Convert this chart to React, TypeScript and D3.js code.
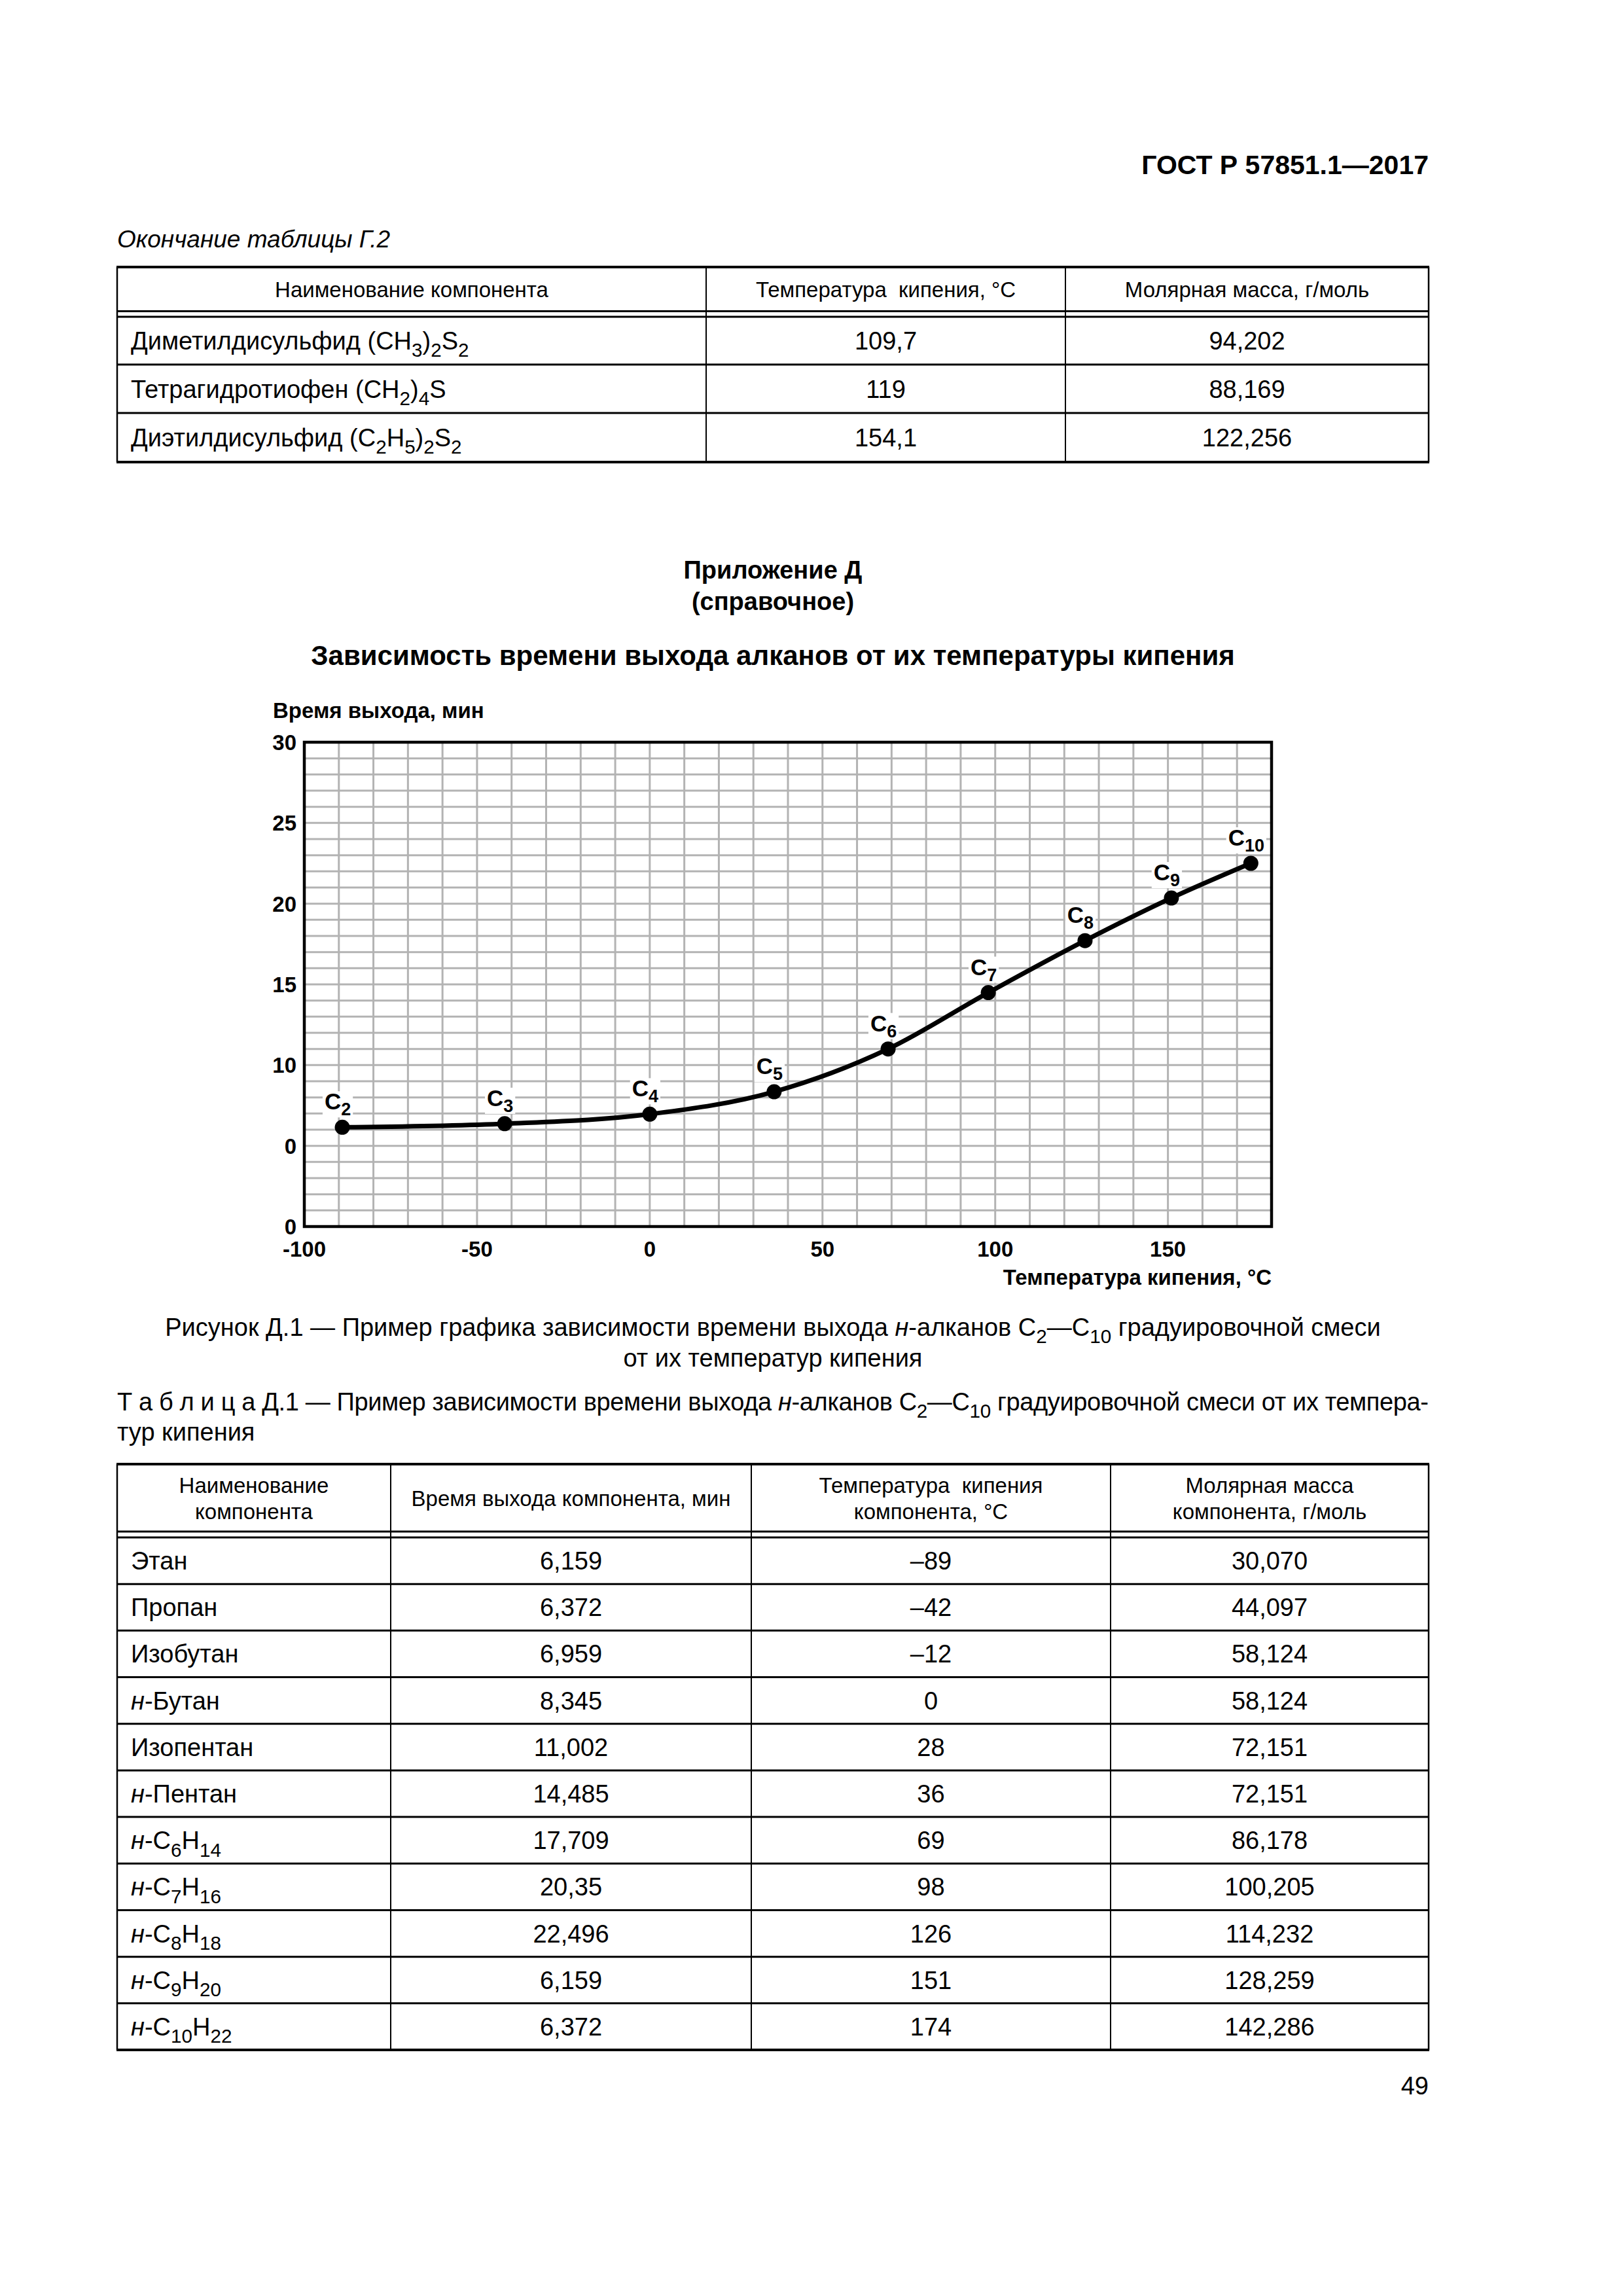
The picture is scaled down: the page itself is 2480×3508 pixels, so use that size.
import React from 'react';
import * as d3 from 'd3';

const FONT = '"Liberation Sans", Arial, Helvetica, sans-serif';

// ---------- chart data ----------
const carbonLabels = ['2', '3', '4', '5', '6', '7', '8', '9', '10'];
const boilingTemps = [-89, -42, 0, 36, 69, 98, 126, 151, 174];
const retentionTimes = [6.15, 6.37, 6.96, 8.35, 11.0, 14.49, 17.71, 20.35, 22.5];
const xTickValues = [-100, -50, 0, 50, 100, 150];
const yTickValues = [30, 25, 20, 15, 10, 5, 0];
const yTickLabels = ['30', '25', '20', '15', '10', '0', '0'];

// ---------- table Г.2 (end) ----------
const topHeaders = ['Наименование компонента', 'Температура  кипения, °C', 'Молярная масса, г/моль'];
const topNames = ['Диметилдисульфид (CH_3)_2S_2', 'Тетрагидротиофен (CH_2)_4S', 'Диэтилдисульфид (C_2H_5)_2S_2'];
const topBoiling = ['109,7', '119', '154,1'];
const topMolar = ['94,202', '88,169', '122,256'];

// ---------- table Д.1 ----------
const d1Headers = [
  ['Наименование', 'компонента'],
  ['Время выхода компонента, мин'],
  ['Температура  кипения', 'компонента, °C'],
  ['Молярная масса', 'компонента, г/моль'],
];
const d1Names = ['Этан', 'Пропан', 'Изобутан', '*н*-Бутан', 'Изопентан', '*н*-Пентан', '*н*-C_6H_14', '*н*-C_7H_16', '*н*-C_8H_18', '*н*-C_9H_20', '*н*-C_10H_22'];
const d1Times = ['6,159', '6,372', '6,959', '8,345', '11,002', '14,485', '17,709', '20,35', '22,496', '6,159', '6,372'];
const d1Boiling = ['–89', '–42', '–12', '0', '28', '36', '69', '98', '126', '151', '174'];
const d1Molar = ['30,070', '44,097', '58,124', '58,124', '72,151', '72,151', '86,178', '100,205', '114,232', '128,259', '142,286'];

type Tok = { t: string; sub?: boolean; it?: boolean };
function parse(s: string): Tok[] {
  const parts = s.split(/(_\d+|\*[^*]+\*)/).filter((p) => p.length > 0);
  return parts.map((p) => {
    if (p.startsWith('_')) return { t: p.slice(1), sub: true };
    if (p.startsWith('*')) return { t: p.slice(1, -1), it: true };
    return { t: p };
  });
}

function Rich(props: { x: number; y: number; text: string; size: number; anchor?: string; weight?: string; italic?: boolean; textLength?: number }) {
  const { x, y, text, size, anchor = 'start', weight = 'normal', italic = false, textLength } = props;
  const toks = parse(text);
  const subSize = size * 0.78;
  const shift = size * 0.3;
  let cur = 0;
  return (
    <text x={x} y={y} fontSize={size} fontFamily={FONT} textAnchor={anchor} fontWeight={weight} fontStyle={italic ? 'italic' : 'normal'} fill="#000" textLength={textLength} lengthAdjust={textLength ? 'spacing' : undefined}>
      {toks.map((tk, i) => {
        const target = tk.sub ? shift : 0;
        const dy = target - cur;
        cur = target;
        return (
          <tspan key={i} dy={dy} fontSize={tk.sub ? subSize : size} fontStyle={tk.it ? 'italic' : undefined}>
            {tk.t}
          </tspan>
        );
      })}
    </text>
  );
}

function HLine({ x1, x2, y, w }: { x1: number; x2: number; y: number; w: number }) {
  return <line x1={x1} x2={x2} y1={y} y2={y} stroke="#000" strokeWidth={w} />;
}
function VLine({ x, y1, y2, w }: { x: number; y1: number; y2: number; w: number }) {
  return <line x1={x} x2={x} y1={y1} y2={y2} stroke="#000" strokeWidth={w} />;
}

function Chart() {
  const L = 465, R = 1943, T = 1134, B = 1874;
  const x = d3.scaleLinear().domain([-100, 180]).range([L, R]);
  const y = d3.scaleLinear().domain([0, 30]).range([B, T]);
  const pts = boilingTemps.map((t, i) => [x(t), y(retentionTimes[i])] as [number, number]);
  const path = d3.line().curve(d3.curveMonotoneX)(pts) || '';
  const vGrid = d3.range(-90, 180, 10);
  const hGrid = d3.range(1, 30, 1);
  const labSize = 35;
  const subSize = 27;
  return (
    <g>
      {vGrid.map((v) => (
        <line key={'v' + v} x1={x(v)} x2={x(v)} y1={T} y2={B} stroke="#b3b3b3" strokeWidth={3} />
      ))}
      {hGrid.map((v) => (
        <line key={'h' + v} x1={L} x2={R} y1={y(v)} y2={y(v)} stroke="#b3b3b3" strokeWidth={3} />
      ))}
      <rect x={L} y={T} width={R - L} height={B - T} fill="none" stroke="#000" strokeWidth={4.5} />
      <path d={path} fill="none" stroke="#000" strokeWidth={7} strokeLinejoin="round" />
      {pts.map((p, i) => (
        <circle key={'c' + i} cx={p[0]} cy={p[1]} r={11.5} fill="#000" />
      ))}
      {pts.map((p, i) => {
        const sub = carbonLabels[i];
        const w = labSize * 0.722 + sub.length * subSize * 0.556;
        const cx = p[0] - 7;
        const base = p[1] - 27;
        return (
          <g key={'l' + i}>
            <rect x={cx - w / 2 - 3} y={base - 28} width={w + 6} height={40} fill="#fff" />
            <text x={cx} y={base} textAnchor="middle" fontFamily={FONT} fontWeight="bold" fontSize={labSize}>
              C<tspan dy={9} fontSize={subSize}>{sub}</tspan>
            </text>
          </g>
        );
      })}
      {yTickValues.map((v, i) => (
        <text key={'yt' + i} x={L - 12} y={y(v) + 12} textAnchor="end" fontFamily={FONT} fontWeight="bold" fontSize={33}>
          {yTickLabels[i]}
        </text>
      ))}
      {xTickValues.map((v) => (
        <text key={'xt' + v} x={x(v)} y={1920} textAnchor="middle" fontFamily={FONT} fontWeight="bold" fontSize={33}>
          {String(v)}
        </text>
      ))}
      <text x={417} y={1097} fontFamily={FONT} fontWeight="bold" fontSize={33}>Время выхода, мин</text>
      <text x={R} y={1963} textAnchor="end" fontFamily={FONT} fontWeight="bold" fontSize={33}>Температура кипения, °C</text>
    </g>
  );
}

function TopTable() {
  const cols = [179, 1079, 1628, 2183];
  const top = 408, hb1 = 475.5, hb2 = 484;
  const rows = [484, 557, 631, 706];
  const bodySize = 38, headSize = 33;
  return (
    <g>
      <HLine x1={cols[0] - 1} x2={cols[3] + 1} y={top} w={4} />
      <HLine x1={cols[0]} x2={cols[3]} y={hb1} w={3} />
      <HLine x1={cols[0]} x2={cols[3]} y={hb2} w={3} />
      {rows.slice(1, 3).map((r) => <HLine key={r} x1={cols[0]} x2={cols[3]} y={r} w={3} />)}
      <HLine x1={cols[0] - 1} x2={cols[3] + 1} y={rows[3]} w={4} />
      {cols.map((c, i) => <VLine key={c} x={c} y1={top} y2={rows[3]} w={i === 0 || i === 3 ? 2.5 : 2} />)}
      {topHeaders.map((h, i) => (
        <text key={h} x={(cols[i] + cols[i + 1]) / 2} y={(top + hb1) / 2 + 12} textAnchor="middle" fontFamily={FONT} fontSize={headSize} style={{ whiteSpace: 'pre' }}>{h}</text>
      ))}
      {topNames.map((n, i) => {
        const base = (rows[i] + rows[i + 1]) / 2 + 13.5;
        return (
          <g key={n}>
            <Rich x={200} y={base} text={n} size={bodySize} />
            <text x={(cols[1] + cols[2]) / 2} y={base} textAnchor="middle" fontFamily={FONT} fontSize={bodySize}>{topBoiling[i]}</text>
            <text x={(cols[2] + cols[3]) / 2} y={base} textAnchor="middle" fontFamily={FONT} fontSize={bodySize}>{topMolar[i]}</text>
          </g>
        );
      })}
    </g>
  );
}

function D1Table() {
  const cols = [179, 597, 1148, 1697, 2183];
  const top = 2237, hb1 = 2340, hb2 = 2349, bottom = 3132;
  const n = d1Names.length;
  const rh = (bottom - hb2) / n;
  const bodySize = 38, headSize = 33;
  return (
    <g>
      <HLine x1={cols[0] - 1} x2={cols[4] + 1} y={top} w={4} />
      <HLine x1={cols[0]} x2={cols[4]} y={hb1} w={3} />
      <HLine x1={cols[0]} x2={cols[4]} y={hb2} w={3} />
      {d3.range(1, n).map((i) => <HLine key={i} x1={cols[0]} x2={cols[4]} y={hb2 + i * rh} w={3} />)}
      <HLine x1={cols[0] - 1} x2={cols[4] + 1} y={bottom} w={4} />
      {cols.map((c, i) => <VLine key={c} x={c} y1={top} y2={bottom} w={i === 0 || i === 4 ? 2.5 : 2} />)}
      {d1Headers.map((lines, i) => {
        const cx = (cols[i] + cols[i + 1]) / 2;
        const mid = (top + hb1) / 2;
        return lines.map((ln, j) => (
          <text key={i + '-' + j} x={cx} y={mid + 12 + (j - (lines.length - 1) / 2) * 40} textAnchor="middle" fontFamily={FONT} fontSize={headSize} style={{ whiteSpace: 'pre' }}>{ln}</text>
        ));
      })}
      {d1Names.map((nm, i) => {
        const base = hb2 + (i + 0.5) * rh + 13.5;
        return (
          <g key={i}>
            <Rich x={200} y={base} text={nm} size={bodySize} />
            <text x={(cols[1] + cols[2]) / 2} y={base} textAnchor="middle" fontFamily={FONT} fontSize={bodySize}>{d1Times[i]}</text>
            <text x={(cols[2] + cols[3]) / 2} y={base} textAnchor="middle" fontFamily={FONT} fontSize={bodySize}>{d1Boiling[i]}</text>
            <text x={(cols[3] + cols[4]) / 2} y={base} textAnchor="middle" fontFamily={FONT} fontSize={bodySize}>{d1Molar[i]}</text>
          </g>
        );
      })}
    </g>
  );
}

export default function App() {
  return (
    <svg width={2480} height={3508} viewBox="0 0 2480 3508" style={{ position: 'absolute', left: 0, top: 0, background: '#fff' }}>
      <rect x={0} y={0} width={2480} height={3508} fill="#fff" />
      <text x={2183} y={266} textAnchor="end" fontFamily={FONT} fontWeight="bold" fontSize={41}>ГОСТ Р 57851.1—2017</text>
      <text x={179} y={378} fontFamily={FONT} fontStyle="italic" fontSize={37}>Окончание таблицы Г.2</text>
      <TopTable />
      <text x={1181} y={884} textAnchor="middle" fontFamily={FONT} fontWeight="bold" fontSize={38}>Приложение Д</text>
      <text x={1181} y={932} textAnchor="middle" fontFamily={FONT} fontWeight="bold" fontSize={38}>(справочное)</text>
      <text x={1181} y={1016} textAnchor="middle" fontFamily={FONT} fontWeight="bold" fontSize={42}>Зависимость времени выхода алканов от их температуры кипения</text>
      <Chart />
      <Rich x={1181} y={2041} anchor="middle" size={38} text="Рисунок Д.1 — Пример графика зависимости времени выхода *н*-алканов C_2—C_10 градуировочной смеси" />
      <text x={1181} y={2088} textAnchor="middle" fontFamily={FONT} fontSize={38}>от их температур кипения</text>
      <Rich x={179} y={2155} size={38} textLength={2004} text="Т а б л и ц а  Д.1 — Пример зависимости времени выхода *н*-алканов C_2—C_10 градуировочной смеси от их темпера-" />
      <text x={179} y={2201} fontFamily={FONT} fontSize={38}>тур кипения</text>
      <D1Table />
      <text x={2183} y={3200} textAnchor="end" fontFamily={FONT} fontSize={38}>49</text>
    </svg>
  );
}
